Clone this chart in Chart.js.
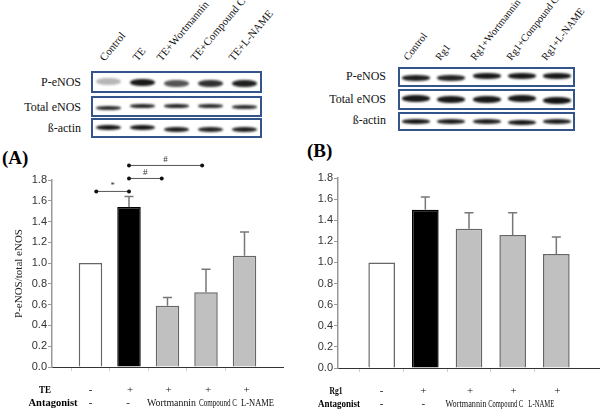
<!DOCTYPE html>
<html><head><meta charset="utf-8">
<script src="https://cdn.jsdelivr.net/npm/chart.js@4.4.1/dist/chart.umd.min.js"></script>
<style>
html,body{margin:0;padding:0;background:#fff;}
#fig{position:relative;width:600px;height:409px;overflow:hidden;font-family:'Liberation Serif','Times New Roman','DejaVu Serif',serif;color:#111;}
.box{position:absolute;border:2px solid #34558c;box-sizing:border-box;background:#fff;overflow:hidden;}
.band{position:absolute;border-radius:45%;filter:blur(1.1px);}
.rowlab{position:absolute;font-size:12px;text-align:right;white-space:nowrap;line-height:12px;}
.collab{position:absolute;white-space:nowrap;transform-origin:0 100%;}
.plab{position:absolute;font-weight:bold;font-size:19px;color:#000;line-height:19px;}
.cw{position:absolute;width:300px;height:269px;}
</style></head>
<body><div id="fig">
<div class="plab" style="left:2px;top:148px">(A)</div>
<div class="plab" style="left:307px;top:141px">(B)</div>
<div class="cw" style="left:0;top:140px"><canvas id="cA" width="300" height="269"></canvas></div>
<div class="cw" style="left:300px;top:140px"><canvas id="cB" width="300" height="269"></canvas></div>
</div>
<script>
// ---------------- data ----------------
const lanesA = ['Control', 'TE', 'TE+Wortmannin', 'TE+Compound C', 'TE+L-NAME'];
const lanesB = ['Control', 'Rg1', 'Rg1+Wortmannin', 'Rg1+Compound C', 'Rg1+L-NAME'];
const blotRows = ['P-eNOS', 'Total eNOS', 'ß-actin'];
// band intensities (0..1) read from the blots
const blotA_P = [0.30, 0.95, 0.70, 0.85, 0.92];
const blotA_total = [0.88, 0.90, 0.90, 0.88, 0.88];
const blotA_actin = [0.95, 0.95, 0.92, 0.90, 0.92];
const blotB_P = [0.92, 0.90, 0.95, 0.95, 0.95];
const blotB_total = [0.95, 0.95, 0.95, 0.95, 0.97];
const blotB_actin = [0.95, 0.92, 0.92, 0.95, 0.92];

const categoriesA = ['Control', 'TE', 'TE+Wortmannin', 'TE+Compound C', 'TE+L-NAME'];
const categoriesB = ['Control', 'Rg1', 'Rg1+Wortmannin', 'Rg1+Compound C', 'Rg1+L-NAME'];
const meanA = [1.00, 1.54, 0.59, 0.72, 1.07];
const errTopA = [null, 1.64, 0.67, 0.94, 1.30];
const meanB = [1.00, 1.50, 1.32, 1.26, 1.08];
const errTopB = [null, 1.62, 1.47, 1.47, 1.24];
const yMin = 0, yMax = 1.8, yStep = 0.2;
const yTitleA = 'P-eNOS/total eNOS';
const rowTE = ['-', '+', '+', '+', '+'];
const rowRg1 = ['-', '+', '+', '+', '+'];
const rowAntagonist = ['-', '-', 'Wortmannin', 'Compound C', 'L-NAME'];
const sigA = [['*', 0, 1, 1.69], ['#', 1, 2, 1.815], ['#', 1, 3, 1.94]];

const SERIF = '"Liberation Serif", "Times New Roman", "DejaVu Serif", serif';

// ---------------- blots ----------------
const fig = document.getElementById('fig');
function el(cls, style, text) {
  const d = document.createElement('div'); d.className = cls;
  Object.assign(d.style, style); if (text != null) d.textContent = text;
  fig.appendChild(d); return d;
}
function makeBlot(L, lanes, rowsData) {
  const w = L.right - L.left, lw = w / lanes.length;
  rowsData.forEach((vals, r) => {
    const [t, b] = L.rows[r];
    const box = el('box', {left: L.left + 'px', top: t + 'px', width: w + 'px', height: (b - t) + 'px'});
    const h = L.bandH[r];
    vals.forEach((v, i) => {
      const d = document.createElement('div'); d.className = 'band';
      const bw = L.bandW;
      Object.assign(d.style, {
        left: ((i + 0.5) * lw - bw / 2 - 2) + 'px',
        top: ((b - t) / 2 - h / 2 - 2 + (L.bandDy[r][i] || 0)) + 'px',
        width: bw + 'px', height: h + 'px',
        background: 'rgba(12,12,12,' + v + ')'
      });
      box.appendChild(d);
    });
    el('rowlab', {left: (L.labelRight - 80) + 'px', width: '80px', top: (L.labelY[r] - 6) + 'px'}, blotRows[r]);
  });
  lanes.forEach((s, i) => {
    el('collab', {left: L.colX[i] + 'px', top: (L.colY - L.fs) + 'px', fontSize: L.fs + 'px', lineHeight: L.fs + 'px',
      transform: 'rotate(' + L.angle + 'deg)'}, s);
  });
}
makeBlot({left: 91, right: 262, rows: [[71, 93], [96, 117], [118, 138]], bandW: 25, bandH: [7, 4, 5],
  bandDy: [[-1, 0, 1, 1, 1], [1, -1, -1, -1, 0], [-1, -1, 1, 1, 1]],
  labelRight: 81, labelY: [82, 107, 128], colX: [106, 139, 163, 197, 235], colY: 63, angle: -50, fs: 11},
  lanesA, [blotA_P, blotA_total, blotA_actin]);
makeBlot({left: 398, right: 575, rows: [[67, 87], [89, 110], [112, 131]], bandW: 28, bandH: [6, 7, 5],
  bandDy: [[1, 1, -1, -1, -1], [-1, 0, 0, -1, 1], [0, 0, 0, 1, 0]],
  labelRight: 386, labelY: [76, 99, 120], colX: [410, 442, 477, 513, 548], colY: 62, angle: -52, fs: 10.3},
  lanesB, [blotB_P, blotB_total, blotB_actin]);

// ---------------- charts ----------------
const extrasPlugin = {
  id: 'extras',
  afterDatasetsDraw(chart, args, o) {
    const ctx = chart.ctx, xs = chart.scales.x, ys = chart.scales.y;
    const meta = chart.getDatasetMeta(0);
    ctx.save();
    // error bars (upper only)
    ctx.strokeStyle = '#777'; ctx.lineWidth = 1.5;
    o.errTop.forEach((t, i) => {
      if (t == null) return;
      const bar = meta.data[i + 1];
      const y1 = ys.getPixelForValue(t);
      ctx.beginPath();
      ctx.moveTo(bar.x, bar.y); ctx.lineTo(bar.x, y1);
      ctx.moveTo(bar.x - 4.5, y1); ctx.lineTo(bar.x + 4.5, y1);
      ctx.stroke();
    });
    // significance lines
    (o.sig || []).forEach(([sym, a, b, v]) => {
      const xa = xs.getPixelForValue(a + 1 + (a === 0 ? 0.15 : 0));
      const xb = xs.getPixelForValue(b + 1 - (b > 1 ? 0.15 : 0) + (b === 3 ? 0.05 : 0));
      const y = ys.getPixelForValue(v);
      ctx.strokeStyle = '#555'; ctx.lineWidth = 1;
      ctx.beginPath(); ctx.moveTo(xa, y); ctx.lineTo(xb, y); ctx.stroke();
      ctx.fillStyle = '#111';
      [xa, xb].forEach(x => { ctx.beginPath(); ctx.arc(x, y, 2, 0, Math.PI * 2); ctx.fill(); });
      ctx.font = '9px ' + SERIF; ctx.textAlign = 'center'; ctx.textBaseline = 'alphabetic';
      ctx.fillStyle = '#333';
      ctx.fillText(sym, (xa + xb) / 2, y - 3);
    });
    // treatment table
    o.table.forEach(row => {
      ctx.textBaseline = 'middle';
      ctx.font = 'bold 11px ' + SERIF; ctx.textAlign = 'center'; ctx.fillStyle = '#000';
      ctx.fillText(row.header, row.hx, row.y, row.hw);
      row.items.forEach((s, i) => {
        const x = xs.getPixelForValue(i + 1) + (row.dx[i] || 0);
        ctx.font = (s.length > 1 ? '10px ' : '11px ') + SERIF;
        ctx.fillStyle = '#111';
        if (row.w && row.w[i]) ctx.fillText(s, x, row.y, row.w[i]);
        else ctx.fillText(s, x, row.y);
      });
    });
    ctx.restore();
  }
};

function makeChart(id, cats, mean, errTop, opts) {
  const labels = [''].concat(cats, ['']);
  const data = [null].concat(mean, [null]);
  const fills = [null, '#ffffff', '#000000', '#c0c0c0', '#c0c0c0', '#c0c0c0', null];
  const borders = [null, '#666666', '#000000', '#666666', '#666666', '#666666', null];
  return new Chart(document.getElementById(id), {
    type: 'bar',
    data: {labels, datasets: [{data, backgroundColor: fills, borderColor: borders, borderWidth: 1.5,
      barPercentage: 0.61, categoryPercentage: 1}]},
    plugins: [extrasPlugin],
    options: {
      responsive: false, animation: false, events: [],
      layout: {padding: opts.padding},
      plugins: {legend: {display: false}, tooltip: {enabled: false},
        extras: {errTop, sig: opts.sig, table: opts.table}},
      scales: {
        x: {type: 'category', offset: false,
          grid: {display: true, drawOnChartArea: false, drawTicks: true, tickLength: 4,
            color: ctx => (ctx.index === 0 || ctx.index === 6) ? 'rgba(0,0,0,0)' : '#d0d0d0'},
          border: {display: true, color: '#333', width: 1},
          ticks: {display: false},
          afterFit: s => { s.height = 0; }},
        y: {min: yMin, max: yMax,
          grid: {drawOnChartArea: false, drawTicks: true, tickLength: 4, color: '#999'},
          border: {display: true, color: '#999', width: 1.5},
          ticks: {stepSize: yStep, padding: 1, color: '#333',
            font: {family: '"Liberation Sans", Arial, sans-serif', size: 11},
            callback: v => Number(v).toFixed(1)},
          title: opts.title ? {display: true, text: opts.title, color: '#222',
            font: {family: SERIF, size: 11}, padding: {top: 13, bottom: 0}} : {display: false},
          afterFit: s => { s.width = opts.yWidth; }}
      }
    }
  });
}

makeChart('cA', categoriesA, meanA, errTopA, {
  padding: {left: 0, right: 17, top: 40, bottom: 42}, yWidth: 52, title: yTitleA, sig: sigA,
  table: [
    {header: 'TE', hx: 45, hw: 12, y: 250, items: rowTE, dx: [0, 1, 1, 2, 2]},
    {header: 'Antagonist', hx: 53, hw: 49, y: 263, items: rowAntagonist, dx: [0, -1, 4, 12, 13], w: [0, 0, 49, 38, 33]}
  ]});
makeChart('cB', categoriesB, meanB, errTopB, {
  padding: {left: 0, right: 0, top: 38, bottom: 41}, yWidth: 38, title: null, sig: [],
  table: [
    {header: 'Rg1', hx: 36, hw: 13, y: 251, items: rowRg1, dx: [0, -2, 1, 1, 1]},
    {header: 'Antagonist', hx: 39, hw: 42, y: 264, items: rowAntagonist, dx: [0, -2, -3, -7, -15], w: [0, 0, 41, 35, 26]}
  ]});
</script>
</body></html>
